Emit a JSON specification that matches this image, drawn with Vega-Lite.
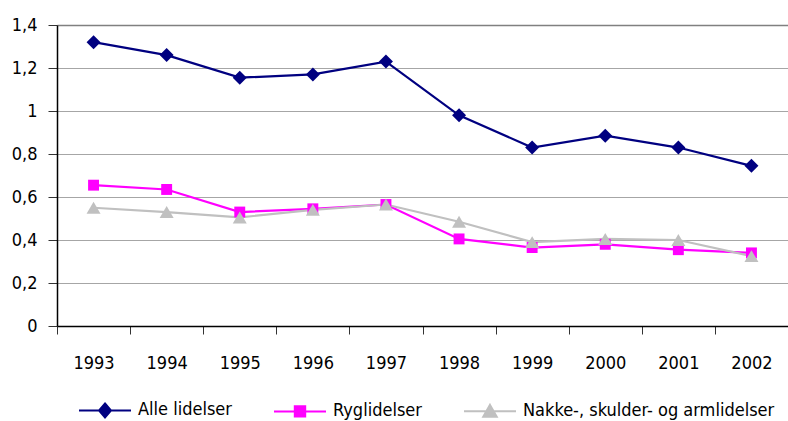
{
  "$schema": "https://vega.github.io/schema/vega-lite/v6.json",
  "width": 731,
  "height": 301,
  "autosize": {"type": "none"},
  "padding": {"left": 57, "top": 25, "right": 0, "bottom": 95},
  "config": {
    "view": {"stroke": null},
    "font": "DejaVu Sans Condensed, Liberation Sans, sans-serif"
  },
  "data": {
    "values": [
      {"year": "1993", "series": "Alle lidelser", "value": 1.32},
      {"year": "1994", "series": "Alle lidelser", "value": 1.26},
      {"year": "1995", "series": "Alle lidelser", "value": 1.155},
      {"year": "1996", "series": "Alle lidelser", "value": 1.17},
      {"year": "1997", "series": "Alle lidelser", "value": 1.23},
      {"year": "1998", "series": "Alle lidelser", "value": 0.98},
      {"year": "1999", "series": "Alle lidelser", "value": 0.83},
      {"year": "2000", "series": "Alle lidelser", "value": 0.885},
      {"year": "2001", "series": "Alle lidelser", "value": 0.83},
      {"year": "2002", "series": "Alle lidelser", "value": 0.745},
      {"year": "1993", "series": "Ryglidelser", "value": 0.655},
      {"year": "1994", "series": "Ryglidelser", "value": 0.635},
      {"year": "1995", "series": "Ryglidelser", "value": 0.53},
      {"year": "1996", "series": "Ryglidelser", "value": 0.545},
      {"year": "1997", "series": "Ryglidelser", "value": 0.565},
      {"year": "1998", "series": "Ryglidelser", "value": 0.405},
      {"year": "1999", "series": "Ryglidelser", "value": 0.365},
      {"year": "2000", "series": "Ryglidelser", "value": 0.38},
      {"year": "2001", "series": "Ryglidelser", "value": 0.355},
      {"year": "2002", "series": "Ryglidelser", "value": 0.34},
      {"year": "1993", "series": "Nakke-, skulder- og armlidelser", "value": 0.55},
      {"year": "1994", "series": "Nakke-, skulder- og armlidelser", "value": 0.53},
      {"year": "1995", "series": "Nakke-, skulder- og armlidelser", "value": 0.505},
      {"year": "1996", "series": "Nakke-, skulder- og armlidelser", "value": 0.54},
      {"year": "1997", "series": "Nakke-, skulder- og armlidelser", "value": 0.565},
      {"year": "1998", "series": "Nakke-, skulder- og armlidelser", "value": 0.485},
      {"year": "1999", "series": "Nakke-, skulder- og armlidelser", "value": 0.39},
      {"year": "2000", "series": "Nakke-, skulder- og armlidelser", "value": 0.405},
      {"year": "2001", "series": "Nakke-, skulder- og armlidelser", "value": 0.4},
      {"year": "2002", "series": "Nakke-, skulder- og armlidelser", "value": 0.325}
    ]
  },
  "encoding": {
    "x": {
      "field": "year",
      "type": "ordinal",
      "scale": {"paddingInner": 0, "paddingOuter": 0},
      "axis": {
        "title": null,
        "labelAngle": 0,
        "tickBand": "extent",
        "tickSize": 8,
        "tickColor": "#333333",
        "domainColor": "#000000",
        "domainWidth": 1.5,
        "labelFontSize": 18,
        "labelColor": "#000000",
        "labelPadding": 20,
        "grid": false
      }
    },
    "y": {
      "field": "value",
      "type": "quantitative",
      "scale": {"domain": [0, 1.4], "nice": false},
      "axis": {
        "title": null,
        "values": [0, 0.2, 0.4, 0.6, 0.8, 1, 1.2, 1.4],
        "labelExpr": "replace(format(datum.value, '.1~f'), '.', ',')",
        "tickSize": 9,
        "tickColor": "#333333",
        "domainColor": "#000000",
        "domainWidth": 1.5,
        "labelFontSize": 18,
        "labelColor": "#000000",
        "labelPadding": 11,
        "grid": true,
        "gridColor": {"condition": {"test": "datum.value === 1.4", "value": "#808080"}, "value": "#a6a6a6"},
        "gridWidth": {"condition": {"test": "datum.value === 1.4", "value": 1.5}, "value": 1}
      }
    },
    "color": {
      "field": "series",
      "type": "nominal",
      "scale": {
        "domain": ["Alle lidelser", "Ryglidelser", "Nakke-, skulder- og armlidelser"],
        "range": ["#000080", "#ff00ff", "#c0c0c0"]
      },
      "legend": {
        "title": null,
        "orient": "none",
        "direction": "horizontal",
        "legendX": 21,
        "legendY": 358,
        "padding": 0,
        "columnPadding": 38,
        "symbolSize": 2704,
        "symbolStrokeWidth": 2,
        "labelFontSize": 18,
        "labelLimit": 400,
        "labelColor": "#000000",
        "labelOffset": 6,
        "encode": {
          "symbols": {
            "update": {
              "shape": {"signal": "datum.value === 'Alle lidelser' ? 'M-1,0H1M0,-0.27L0.23,0L0,0.27L-0.23,0Z' : datum.value === 'Ryglidelser' ? 'M-1,0H1M-0.2,-0.2H0.2V0.2H-0.2Z' : 'M-1,0H1M0,-0.24L0.26,0.22H-0.26Z'"},
              "fill": {"signal": "scale('color', datum.value)"},
              "stroke": {"signal": "scale('color', datum.value)"},
              "strokeWidth": {"value": 2},
              "opacity": {"value": 1}
            }
          }
        }
      }
    }
  },
  "layer": [
    {"mark": {"type": "line", "strokeWidth": 2.2}},
    {
      "transform": [{"filter": "datum.series === 'Alle lidelser'"}],
      "mark": {"type": "point", "filled": true, "opacity": 1, "size": 196, "shape": "M0,-1L1,0L0,1L-1,0Z"}
    },
    {
      "transform": [{"filter": "datum.series === 'Ryglidelser'"}],
      "mark": {"type": "point", "filled": true, "opacity": 1, "size": 196, "shape": "M-0.78,-0.78H0.78V0.78H-0.78Z"}
    },
    {
      "transform": [{"filter": "datum.series === 'Nakke-, skulder- og armlidelser'"}],
      "mark": {"type": "point", "filled": true, "opacity": 1, "size": 196, "shape": "M0,-0.85L1,0.85H-1Z"}
    }
  ]
}
